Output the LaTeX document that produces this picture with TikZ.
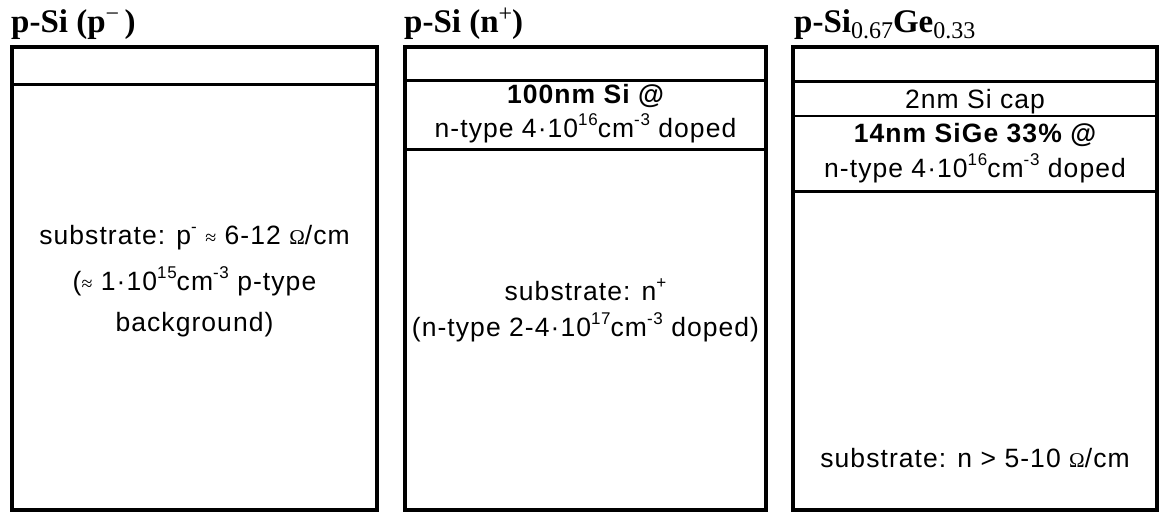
\documentclass[tikz,border=0pt]{standalone}
\usepackage{fontspec}
\setmainfont{Liberation Serif}
\newfontfamily\arial[LetterSpace=4]{Liberation Sans}
\newfontfamily\symf{Liberation Serif}
\newcommand{\sups}[1]{\raisebox{0.42em}{\fontsize{17}{17}\selectfont #1}}
\newcommand{\tsups}[1]{\raisebox{0.33em}{\fontsize{24}{24}\selectfont\mdseries #1}}
\newcommand{\ttlsub}[1]{\raisebox{-0.18em}{\fontsize{24}{24}\selectfont\mdseries #1}}
\newcommand{\ohm}{{\symf\fontsize{21}{21}\selectfont Ω}}
\newcommand{\approxs}{{\symf\fontsize{20}{20}\selectfont ≈}}
\begin{document}
\begin{tikzpicture}[x=1pt,y=-1pt,
  frame/.style={draw,line width=4pt},
  sep/.style={draw,line width=3pt},
  thinsep/.style={draw,line width=2pt},
  txt/.style={font=\arial\fontsize{26.5}{30}\selectfont,inner sep=0pt,anchor=base},
  btxt/.style={font=\arial\bfseries\fontsize{26.5}{30}\selectfont,inner sep=0pt,anchor=base},
  ttl/.style={font=\bfseries\fontsize{33}{36}\selectfont,inner sep=0pt,anchor=base west}]
\useasboundingbox (0,0) rectangle (1161,512);
% titles
\node[ttl] (t1) at (11,32.5) {p-Si (p\tsups{−}\,)};
\node[ttl] (t2) at (404,32.5) {p-Si (n\tsups{+})};
\node[ttl] (t3) at (794,32.5) {p-Si\ttlsub{0.67}Ge\ttlsub{0.33}};
% box 1
\draw[frame] (12,47) rectangle (377,509.5);
\draw[sep] (12,84.5) -- (377,84.5);
\node[txt] (b1a) at (194.5,244) {substrate: p\sups{-} \approxs{} 6-12 \ohm/cm};
\node[txt] (b1b) at (194.5,290) {(\approxs{} 1·10\sups{15}cm\sups{-3} p-type};
\node[txt] (b1c) at (194.5,331) {background)};
% box 2
\draw[frame] (405,47) rectangle (766,509.5);
\draw[sep] (405,80) -- (766,80);
\draw[sep] (405,149) -- (766,149);
\node[btxt] (b2a) at (585.5,103) {100nm Si @};
\node[txt] (b2b) at (585.5,137) {n-type 4·10\sups{16}cm\sups{-3} doped};
\node[txt] (b2c) at (585.5,300) {substrate: n\sups{+}};
\node[txt] (b2d) at (585.5,336) {(n-type 2-4·10\sups{17}cm\sups{-3} doped)};
% box 3
\draw[frame] (793,47) rectangle (1157,509.5);
\draw[sep] (793,81.5) -- (1157,81.5);
\draw[thinsep] (793,116) -- (1157,116);
\draw[sep] (793,191.5) -- (1157,191.5);
\node[txt] (b3a) at (975,108) {2nm Si cap};
\node[btxt] (b3b) at (975,142) {14nm SiGe 33\% @};
\node[txt] (b3c) at (975,177) {n-type 4·10\sups{16}cm\sups{-3} doped};
\node[txt] (b3d) at (975,467) {substrate: n > 5-10 \ohm/cm};
\end{tikzpicture}
\end{document}
